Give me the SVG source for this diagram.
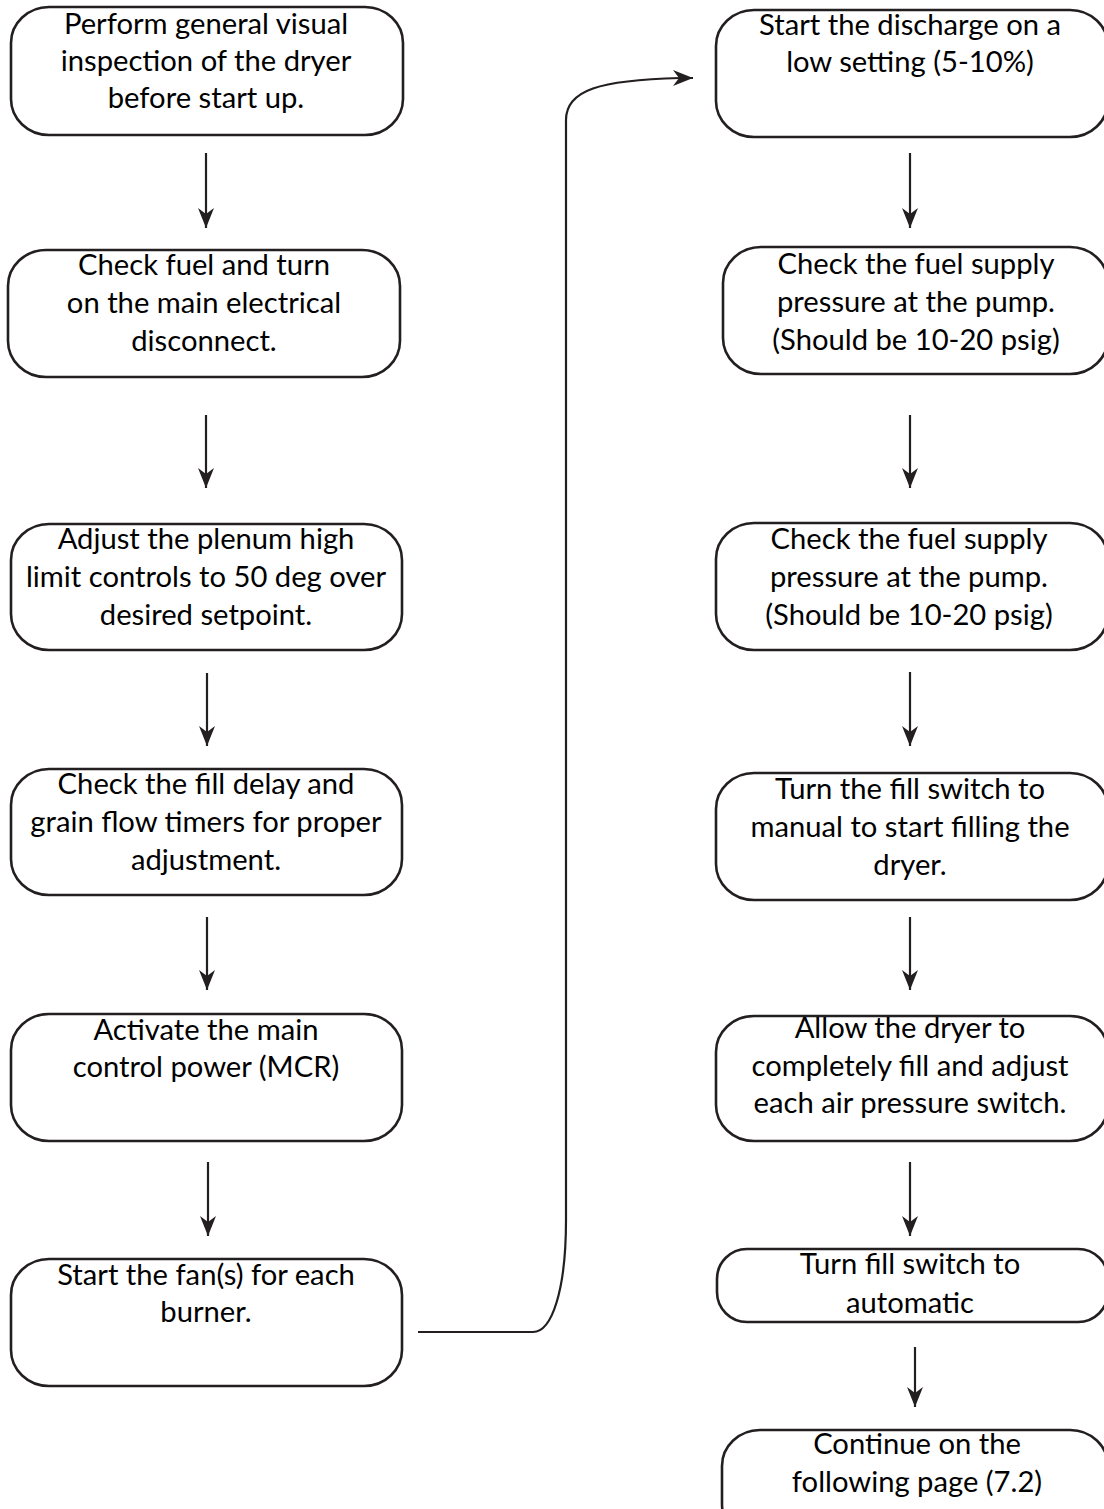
<svg xmlns="http://www.w3.org/2000/svg" width="1104" height="1509" viewBox="0 0 1104 1509">
<style>
.box{fill:#fff;stroke:#231f20;stroke-width:2.6}
.t{font-family:Lato,"Liberation Sans",sans-serif;font-size:29.2px;fill:#000;text-anchor:middle}
.c{fill:none;stroke:#231f20;stroke-width:2.2}
</style>
<defs>
<marker id="ah" markerUnits="userSpaceOnUse" markerWidth="24" markerHeight="20" viewBox="-22 -10 24 20" refX="0" refY="0" orient="auto">
<path d="M0,0 L-20,-8 L-14,0 L-20,8 Z" fill="#231f20"/>
</marker>
</defs>
<rect width="1104" height="1509" fill="#fff"/>
<g id="n1"><rect class="box" x="11" y="7" width="392" height="128" rx="38" ry="36"/>
<text class="t" x="206" y="34">Perform general visual</text><text class="t" x="206" y="71">inspection of the dryer</text><text class="t" x="206" y="108">before start up.</text></g>
<g id="n2"><rect class="box" x="8" y="250" width="392" height="127" rx="38" ry="36"/>
<text class="t" x="204" y="275">Check fuel and turn</text><text class="t" x="204" y="313">on the main electrical</text><text class="t" x="204" y="351">disconnect.</text></g>
<g id="n3"><rect class="box" x="11" y="524" width="391" height="126" rx="38" ry="36"/>
<text class="t" x="206" y="549">Adjust the plenum high</text><text class="t" x="206" y="587">limit controls to 50 deg over</text><text class="t" x="206" y="625">desired setpoint.</text></g>
<g id="n4"><rect class="box" x="11" y="769" width="391" height="126" rx="38" ry="36"/>
<text class="t" x="206" y="794">Check the fill delay and</text><text class="t" x="206" y="832">grain flow timers for proper</text><text class="t" x="206" y="870">adjustment.</text></g>
<g id="n5"><rect class="box" x="11" y="1014" width="391" height="127" rx="38" ry="36"/>
<text class="t" x="206" y="1040">Activate the main</text><text class="t" x="206" y="1077">control power (MCR)</text></g>
<g id="n6"><rect class="box" x="11" y="1259" width="391" height="127" rx="38" ry="36"/>
<text class="t" x="206" y="1285">Start the fan(s) for each</text><text class="t" x="206" y="1322">burner.</text></g>
<g id="n7"><rect class="box" x="716" y="10" width="392" height="127" rx="38" ry="36"/>
<text class="t" x="910" y="35">Start the discharge on a</text><text class="t" x="910" y="72">low setting (5-10%)</text></g>
<g id="n8"><rect class="box" x="723" y="247" width="385" height="127" rx="38" ry="36"/>
<text class="t" x="916" y="274">Check the fuel supply</text><text class="t" x="916" y="312">pressure at the pump.</text><text class="t" x="916" y="350">(Should be 10-20 psig)</text></g>
<g id="n9"><rect class="box" x="716" y="523" width="392" height="127" rx="38" ry="36"/>
<text class="t" x="909" y="549">Check the fuel supply</text><text class="t" x="909" y="587">pressure at the pump.</text><text class="t" x="909" y="625">(Should be 10-20 psig)</text></g>
<g id="n10"><rect class="box" x="716" y="773" width="392" height="127" rx="38" ry="36"/>
<text class="t" x="910" y="799">Turn the fill switch to</text><text class="t" x="910" y="837">manual to start filling the</text><text class="t" x="910" y="875">dryer.</text></g>
<g id="n11"><rect class="box" x="716" y="1016" width="392" height="125" rx="38" ry="36"/>
<text class="t" x="910" y="1038">Allow the dryer to</text><text class="t" x="910" y="1076">completely fill and adjust</text><text class="t" x="910" y="1113">each air pressure switch.</text></g>
<g id="n12"><rect class="box" x="717" y="1249" width="391" height="73" rx="30" ry="30"/>
<text class="t" x="910" y="1274">Turn fill switch to</text><text class="t" x="910" y="1313">automatic</text></g>
<g id="n13"><rect class="box" x="722" y="1430" width="386" height="110" rx="38" ry="36"/>
<text class="t" x="917" y="1454">Continue on the</text><text class="t" x="917" y="1492">following page (7.2)</text></g>
<g id="connectors">
<line class="c" x1="206" y1="153" x2="206" y2="228" marker-end="url(#ah)"/>
<line class="c" x1="206" y1="415" x2="206" y2="488" marker-end="url(#ah)"/>
<line class="c" x1="207" y1="673" x2="207" y2="746" marker-end="url(#ah)"/>
<line class="c" x1="207" y1="917" x2="207" y2="990" marker-end="url(#ah)"/>
<line class="c" x1="208" y1="1162" x2="208" y2="1236" marker-end="url(#ah)"/>
<line class="c" x1="910" y1="153" x2="910" y2="228" marker-end="url(#ah)"/>
<line class="c" x1="910" y1="415" x2="910" y2="488" marker-end="url(#ah)"/>
<line class="c" x1="910" y1="672" x2="910" y2="746" marker-end="url(#ah)"/>
<line class="c" x1="910" y1="917" x2="910" y2="990" marker-end="url(#ah)"/>
<line class="c" x1="910" y1="1162" x2="910" y2="1236" marker-end="url(#ah)"/>
<line class="c" x1="915" y1="1347" x2="915" y2="1407" marker-end="url(#ah)"/>
<path class="c" d="M418,1332 H533 C552,1332 566,1290 566,1220 V120 C566,90 600,80 680,78 L693,78" marker-end="url(#ah)"/>
</g>
</svg>
